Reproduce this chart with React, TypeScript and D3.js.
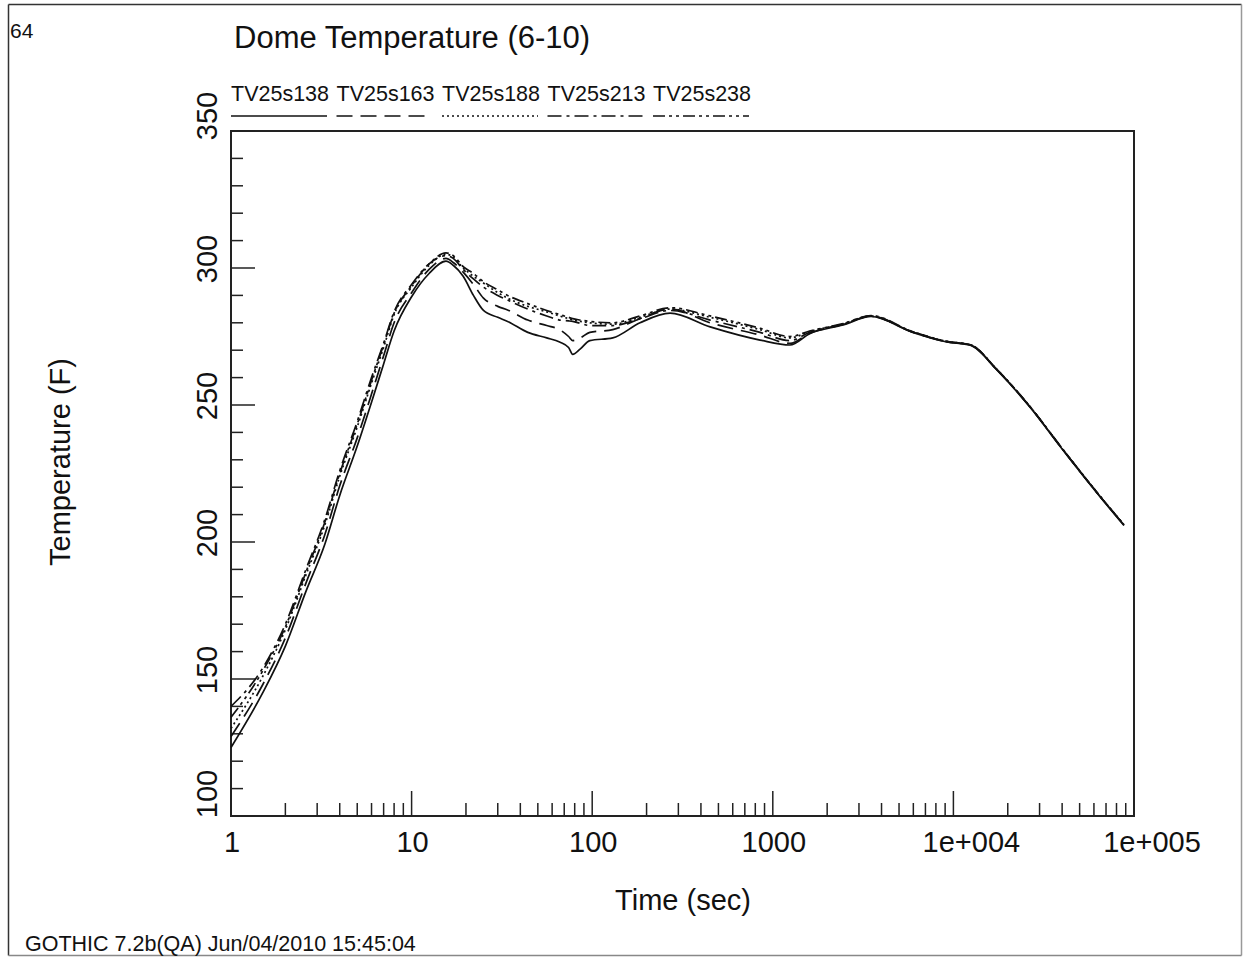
import React from "react";
import * as d3 from "d3";

// Simulation output: dome temperature (F) versus time (sec), five probes
const time = [1, 1.5, 2, 2.6, 3.3, 4, 5, 6, 7, 8, 10, 12.5, 15.5, 17, 19.3, 22, 25, 30, 34, 44, 56, 66, 74, 78, 86, 97, 130, 184, 270, 450, 850, 1245, 1600, 2450, 3500, 5900, 9200, 12400, 17400, 26500, 40400, 62400, 88000];

const tv25s138 = [125, 145, 162, 182, 199, 217, 235, 251, 265, 277, 289.5, 298, 302.5, 301, 297, 290, 284.5, 282, 280.5, 276.5, 274.5, 273, 271, 268.5, 270.5, 273.5, 274.5, 280, 283.5, 278.5, 273.7, 271.9, 276, 279.2, 282.3, 276.6, 273, 271.8, 262.8, 249.3, 233.6, 217.9, 206];
const tv25s163 = [129, 148, 165, 185, 202.5, 220.5, 238, 254, 268, 280, 291, 299.5, 303.5, 302, 298.5, 294, 289, 286, 284.7, 281, 279, 277.5, 275, 273.5, 274.5, 276.5, 277.5, 281.5, 285, 280, 275.5, 272.5, 276.2, 279.4, 282.4, 276.7, 273.1, 271.9, 262.9, 249.4, 233.7, 218, 206.2];
const tv25s188 = [132, 151, 168, 188, 206, 224, 242, 258, 271, 283, 293, 301, 305, 304, 300, 297, 294.5, 291, 289, 286, 284, 282.5, 281.5, 281, 280.5, 280, 279.5, 282, 285, 282, 277.5, 274.5, 276.8, 279.6, 282.5, 276.8, 273.2, 272, 263, 249.5, 233.8, 218.1, 206.3];
const tv25s213 = [140, 154, 170, 190, 208, 226, 244, 260, 272.5, 284, 294, 301.5, 304.5, 303.5, 299.5, 296, 293, 290, 288.3, 285, 282.5, 281, 280.7, 280.5, 279.8, 279, 279, 281.5, 284.5, 281, 276.5, 273.5, 276.5, 279.5, 282.4, 276.7, 273.1, 271.9, 262.9, 249.4, 233.7, 218, 206.2];
const tv25s238 = [136, 153, 169, 189, 207, 225, 243, 259, 272, 283.5, 293.5, 301.5, 305.5, 304.5, 300.5, 298, 295, 292, 290, 287, 284.5, 283, 282, 281.5, 281, 280.5, 280, 282.5, 285.5, 282.5, 278, 275, 277, 279.7, 282.6, 276.9, 273.2, 272, 263, 249.5, 233.8, 218.1, 206.3];

const seriesNames = ["TV25s138", "TV25s163", "TV25s188", "TV25s213", "TV25s238"];
const seriesValues = [tv25s138, tv25s163, tv25s188, tv25s213, tv25s238];

const xMajorTicks = [1, 10, 100, 1000, 10000, 100000];
const xTickLabels = ["1", "10", "100", "1000", "1e+004", "1e+005"];
const yMajorTicks = [100, 150, 200, 250, 300, 350];

const title = "Dome Temperature (6-10)";
const pageNumber = "64";
const xTitle = "Time (sec)";
const yTitle = "Temperature (F)";
const footer = "GOTHIC 7.2b(QA) Jun/04/2010 15:45:04";

// Line styles per probe
const dashStyles = ["none", "16,8", "2,3", "14,5,3,5", "12,4,3,4,3,4"];

const W = 1247;
const H = 958;
const plot = { left: 231, right: 1134, top: 131, bottom: 816 };
const FONT = "'Liberation Sans', Arial, sans-serif";
const INK = "#111";

export default function App() {
  const x = d3.scaleLog().domain([1, 100000]).range([plot.left, plot.right]);
  const y = d3.scaleLinear().domain([100, 350]).range([plot.bottom, plot.top]);

  const line = d3
    .line<number>()
    .x((_, i) => x(time[i]))
    .y((v) => y(v))
    .curve(d3.curveMonotoneX);

  // minor ticks: 2..9 in each decade
  const xMinor: number[] = [];
  for (let dec = 1; dec < 100000; dec *= 10) {
    for (let k = 2; k <= 9; k++) xMinor.push(dec * k);
  }
  const yMinor = d3.range(100, 351, 10).filter((v) => v % 50 !== 0);

  const legendStart = 231;
  const legendPitch = 105.5;
  const topTick = yMajorTicks[yMajorTicks.length - 1];
  const bottomTick = yMajorTicks[0];

  return (
    <svg width={W} height={H} style={{ position: "absolute", left: 0, top: 0, background: "#fff" }}>
      <rect x={0} y={0} width={W} height={H} fill="#fff" />
      {/* page frame: dark top/left, lighter right/bottom */}
      <line x1={8.5} x2={1241.5} y1={4.5} y2={4.5} stroke="#333" strokeWidth={1.5} />
      <line x1={8.5} x2={8.5} y1={4.5} y2={955.5} stroke="#333" strokeWidth={1.5} />
      <line x1={1241.5} x2={1241.5} y1={4.5} y2={955.5} stroke="#999" strokeWidth={1.5} />
      <line x1={8.5} x2={1241.5} y1={955.5} y2={955.5} stroke="#888" strokeWidth={1.5} />

      <text x={10} y={38} fontFamily={FONT} fontSize={21} fill={INK}>{pageNumber}</text>
      <text x={234} y={48} fontFamily={FONT} fontSize={31} fill={INK}>{title}</text>

      {/* legend */}
      {seriesNames.map((name, i) => {
        const lx = legendStart + i * legendPitch;
        return (
          <g key={name}>
            <text x={lx} y={101} fontFamily={FONT} fontSize={21.5} fill={INK}>{name}</text>
            <line x1={lx} x2={lx + 96} y1={116} y2={116} stroke={INK} strokeWidth={1.5}
              strokeDasharray={dashStyles[i] === "none" ? undefined : dashStyles[i]} />
          </g>
        );
      })}

      {/* plot frame */}
      <rect x={plot.left} y={plot.top} width={plot.right - plot.left} height={plot.bottom - plot.top}
        fill="none" stroke="#222" strokeWidth={2} />

      {/* y ticks */}
      {yMajorTicks.map((v) => (
        <line key={"ym" + v} x1={plot.left} x2={plot.left + 24} y1={y(v)} y2={y(v)} stroke="#222" strokeWidth={1.5} />
      ))}
      {yMinor.map((v) => (
        <line key={"yn" + v} x1={plot.left} x2={plot.left + 12} y1={y(v)} y2={y(v)} stroke="#222" strokeWidth={1.5} />
      ))}
      {yMajorTicks.map((v) => {
        const cy = v === topTick ? y(v) - 15 : v === bottomTick ? y(v) - 22 : y(v) - 9;
        return (
          <text key={"yl" + v} transform={`translate(217,${cy}) rotate(-90)`} textAnchor="middle"
            fontFamily={FONT} fontSize={29} fill={INK}>{v}</text>
        );
      })}

      {/* x ticks */}
      {xMajorTicks.map((v) => (
        <line key={"xm" + v} x1={x(v)} x2={x(v)} y1={plot.bottom} y2={plot.bottom - 25} stroke="#222" strokeWidth={1.5} />
      ))}
      {xMinor.map((v) => (
        <line key={"xn" + v} x1={x(v)} x2={x(v)} y1={plot.bottom} y2={plot.bottom - 13} stroke="#222" strokeWidth={1.5} />
      ))}
      {xMajorTicks.map((v, i) => (
        <text key={"xl" + v} x={x(v) + (xTickLabels[i].includes("e") ? 18 : 1)} y={852} textAnchor="middle"
          fontFamily={FONT} fontSize={29} fill={INK}>{xTickLabels[i]}</text>
      ))}

      <text x={683} y={910} textAnchor="middle" fontFamily={FONT} fontSize={29} fill={INK}>{xTitle}</text>
      <text transform="translate(70,462) rotate(-90)" textAnchor="middle" fontFamily={FONT} fontSize={29} fill={INK}>{yTitle}</text>

      {/* curves */}
      {seriesValues.map((vals, i) => (
        <path key={seriesNames[i]} d={line(vals) ?? ""} fill="none" stroke={INK} strokeWidth={1.7}
          strokeDasharray={dashStyles[i] === "none" ? undefined : dashStyles[i]} />
      ))}

      <text x={25} y={951} fontFamily={FONT} fontSize={21.5} fill={INK}>{footer}</text>
    </svg>
  );
}
